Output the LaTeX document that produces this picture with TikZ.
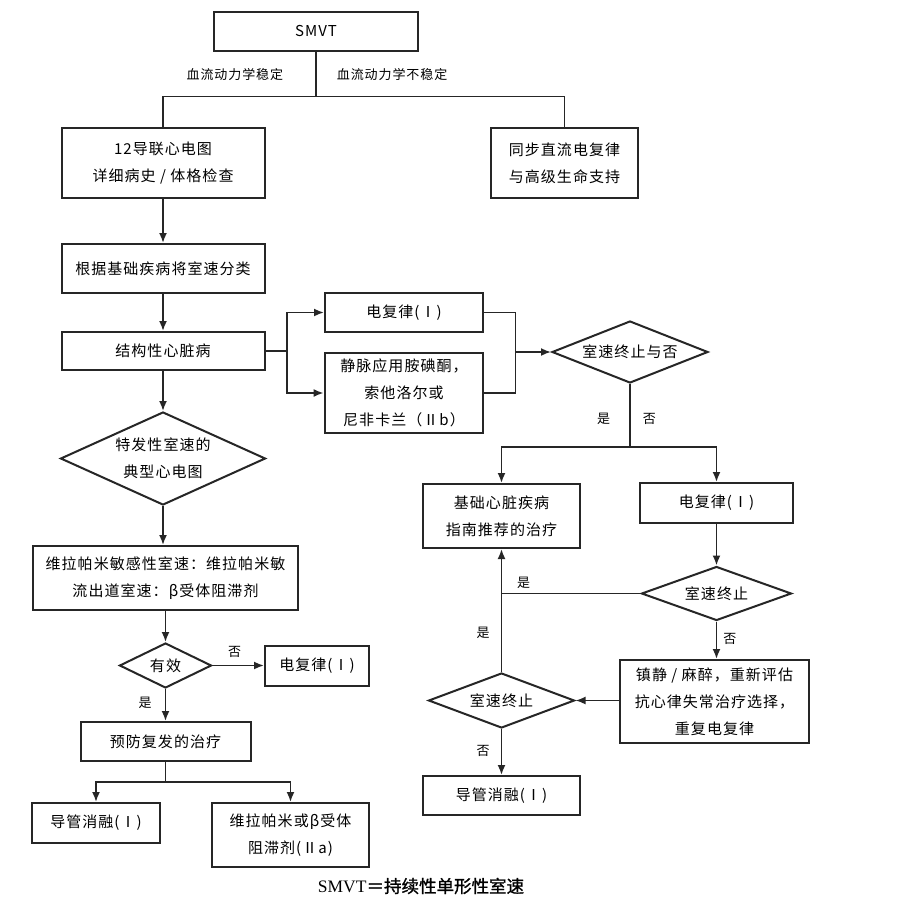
\documentclass[tikz,border=0pt]{standalone}
\usepackage{fontspec}
\setmainfont{Noto Sans CJK SC}[LetterSpace=7]
\newfontfamily\serifmvt{Liberation Serif}
\newfontfamily\cjkbold{Noto Sans CJK SC}[FakeBold=1.2]
\usepackage{tikz}
\usetikzlibrary{arrows.meta,positioning,shapes}
\tikzstyle{caja}=[
	rectangle,
	draw=black!85,
	line width=2pt,
	align=center,
	inner sep=2pt,
	font=\fontsize{15}{27}\selectfont]
\tikzstyle{gruesa}=[
	caja,
	line width=2.8pt]
\tikzstyle{rombo}=[
	diamond,
	draw=black!85,
	line width=2pt,
	aspect=2.2,
	inner sep=0pt,
	align=center,
	font=\fontsize{15}{27}\selectfont]
\tikzstyle{etiq}=[
	inner sep=1pt,
	font=\fontsize{13}{15}\selectfont]

\begin{document}
\begin{tikzpicture}[x=1pt,y=-1pt,>={Latex[length=10pt,width=8pt]},line width=1.8pt,draw=black!85]
	\useasboundingbox[fill=white] (0,0) rectangle (904,899);
	% columna izquierda
	\node[caja,minimum width=204pt,minimum height=39pt] (smvt) at (316,31.5) {SMVT};
	\node[caja,minimum width=203pt,minimum height=70pt] (ecg) at (163,163) {12导联心电图\\详细病史 / 体格检查};
	\node[caja,minimum width=147pt,minimum height=70pt] (sync) at (564.5,163) {同步直流电复律\\与高级生命支持};
	\node[caja,minimum width=203pt,minimum height=49pt] (clasif) at (163,268.5) {根据基础疾病将室速分类};
	\node[caja,minimum width=203pt,minimum height=38pt] (estruct) at (163,351) {结构性心脏病};
	\node[rombo,minimum width=205pt,minimum height=93pt] (idio) at (163,458.5) {特发性室速的\\典型心电图};
	\node[caja,minimum width=265pt,minimum height=64pt] (vera) at (165.5,578) {维拉帕米敏感性室速：维拉帕米敏\\流出道室速：β受体阻滞剂};
	\node[rombo,minimum width=92pt,minimum height=45pt] (efec) at (165.5,665.5) {有效};
	\node[caja,minimum width=104pt,minimum height=40pt] (ecvc) at (317,665.5) {电复律(Ⅰ)};
	\node[caja,minimum width=170pt,minimum height=39pt] (prev) at (165.5,741.5) {预防复发的治疗};
	\node[caja,minimum width=128pt,minimum height=40pt] (ablA) at (96,823) {导管消融(Ⅰ)};
	\node[caja,minimum width=157pt,minimum height=64pt] (verab) at (290.5,835) {维拉帕米或β受体\\阻滞剂(Ⅱa)};
	% columna derecha
	\node[caja,minimum width=158pt,minimum height=39pt] (ecva) at (404,312.5) {电复律(Ⅰ)};
	\node[gruesa,minimum width=158pt,minimum height=80pt] (farm) at (404,393) {静脉应用胺碘酮，\\索他洛尔或\\尼非卡兰（Ⅱb）};
	\node[rombo,minimum width=156pt,minimum height=62pt] (term1) at (630,352) {室速终止与否};
	\node[caja,minimum width=157pt,minimum height=64pt] (basal) at (501.5,516) {基础心脏疾病\\指南推荐的治疗};
	\node[caja,minimum width=153pt,minimum height=40pt] (ecvb) at (716.5,503) {电复律(Ⅰ)};
	\node[rombo,minimum width=150pt,minimum height=54pt] (term2) at (716.5,593.5) {室速终止};
	\node[caja,minimum width=189pt,minimum height=83pt] (sed) at (714.5,701.5) {镇静 / 麻醉，重新评估\\抗心律失常治疗选择，\\重复电复律};
	\node[rombo,minimum width=146pt,minimum height=55pt] (term3) at (501.5,700.5) {室速终止};
	\node[caja,minimum width=157pt,minimum height=39pt] (ablB) at (501.5,795.5) {导管消融(Ⅰ)};
	\node (leyenda) at (421,886) {\fontsize{17.5}{20}\selectfont\serifmvt SMVT\cjkbold ＝持续性单形性室速};
	% puntos de union
	\coordinate (c1) at (316,96.5);
	\coordinate (c2) at (287,351);
	\coordinate (c3) at (515.5,352);
	\coordinate (c4) at (630,447);
	\coordinate (c5) at (501.5,593.5);
	\coordinate (c6) at (165.5,782);
	% conexiones
	\draw (smvt) -- node[etiq,pos=0.5,left=31pt] {血流动力学稳定} node[etiq,pos=0.5,right=19pt] {血流动力学不稳定} (c1);
	\draw (ecg.north) |- (c1) -| (sync.north);
	\draw[->] (ecg) -- (clasif);
	\draw[->] (clasif) -- (estruct);
	\draw (estruct) -- (c2);
	\draw[->] (c2) |- (ecva);
	\draw[->] (c2) |- (farm);
	\draw (ecva.east) -| (c3);
	\draw (farm.east) -| (c3);
	\draw[->] (c3) -- (term1);
	\draw (term1) -- node[etiq,pos=0.55,left=18pt] {是} node[etiq,pos=0.55,right=11pt] {否} (c4);
	\draw[->] (c4) -| (basal.north);
	\draw[->] (c4) -| (ecvb.north);
	\draw[->] (ecvb) -- (term2);
	\draw (term2) -- node[etiq,pos=0.84,above=3pt] {是} (c5);
	\draw[->] (term3) -- node[etiq,pos=0.32,left=10pt] {是} (basal);
	\draw[->] (term2) -- node[etiq,pos=0.47,right=5pt] {否} (term2.south |- sed.north);
	\draw[->] (sed.west |- term3) -- (term3);
	\draw[->] (term3) -- node[etiq,pos=0.48,left=10pt] {否} (ablB);
	\draw[->] (estruct) -- (idio);
	\draw[->] (idio.south) -- (idio.south |- vera.north);
	\draw[->] (vera) -- (efec);
	\draw[->] (efec) -- node[etiq,pos=0.43,above=6pt] {否} (ecvc);
	\draw[->] (efec) -- node[etiq,pos=0.44,left=12pt] {是} (prev);
	\draw (prev) -- (c6);
	\draw[->] (c6) -| (ablA.north);
	\draw[->] (c6) -| (verab.north);
\end{tikzpicture}
\end{document}
